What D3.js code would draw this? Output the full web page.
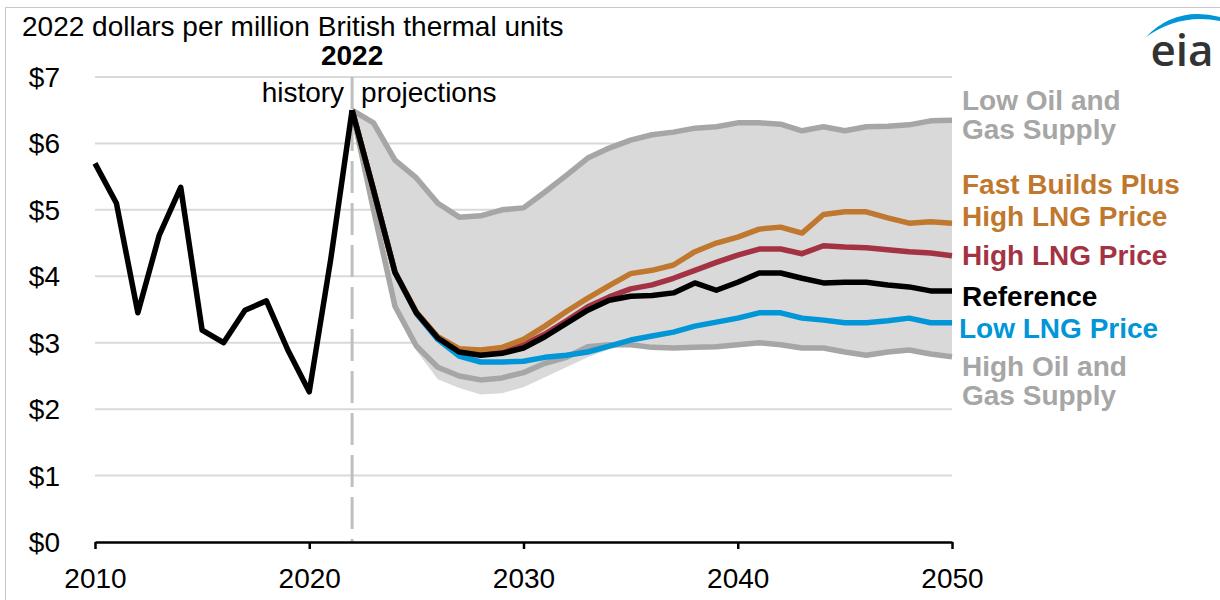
<!DOCTYPE html>
<html>
<head>
<meta charset="utf-8">
<script src="https://cdn.jsdelivr.net/npm/d3@7"></script>
<style>
  body { margin: 0; background: #fff; }
  svg { display: block; font-family: "Liberation Sans", Arial, sans-serif; }
</style>
</head>
<body>
<svg id="chart" width="1220" height="600"></svg>
<script>
// history, 2010-2022
let histYears = d3.range(2010, 2023);
let histValues = [5.70, 5.10, 3.45, 4.62, 5.34, 3.19, 3.00, 3.49, 3.63, 2.89, 2.26, 4.25, 6.50];

// projections, 2022-2050
let projYears = d3.range(2022, 2051);
let reference = [6.50, 5.30, 4.06, 3.45, 3.07, 2.86, 2.81, 2.84, 2.92, 3.09, 3.29, 3.49, 3.64, 3.70, 3.71, 3.75,
                 3.90, 3.79, 3.91, 4.05, 4.05, 3.97, 3.90, 3.91, 3.91, 3.87, 3.84, 3.78, 3.78];
let fastBuilds = [6.50, 5.30, 4.06, 3.46, 3.09, 2.91, 2.89, 2.93, 3.05, 3.25, 3.47, 3.67, 3.86, 4.04, 4.09, 4.17,
                  4.37, 4.50, 4.59, 4.71, 4.74, 4.65, 4.93, 4.97, 4.97, 4.88, 4.80, 4.82, 4.80];
let highLng = [6.50, 5.30, 4.06, 3.45, 3.08, 2.87, 2.83, 2.86, 2.97, 3.13, 3.33, 3.54, 3.69, 3.81, 3.87, 3.97,
               4.09, 4.21, 4.32, 4.41, 4.41, 4.34, 4.46, 4.44, 4.43, 4.40, 4.37, 4.35, 4.31];
let lowLng = [6.50, 5.30, 4.06, 3.44, 3.05, 2.80, 2.71, 2.71, 2.72, 2.78, 2.81, 2.86, 2.95, 3.04, 3.10, 3.16,
              3.25, 3.31, 3.37, 3.45, 3.45, 3.37, 3.34, 3.30, 3.30, 3.33, 3.37, 3.30, 3.30];
let lowSupply = [6.50, 6.31, 5.75, 5.48, 5.10, 4.89, 4.91, 5.00, 5.03, 5.27, 5.52, 5.78, 5.93, 6.05, 6.13, 6.17,
                 6.23, 6.25, 6.31, 6.31, 6.29, 6.19, 6.25, 6.19, 6.25, 6.26, 6.28, 6.34, 6.35];
let highSupply = [6.50, 5.00, 3.55, 2.95, 2.63, 2.50, 2.44, 2.47, 2.55, 2.69, 2.78, 2.94, 2.97, 2.97, 2.93, 2.92,
                  2.93, 2.94, 2.97, 3.00, 2.97, 2.92, 2.92, 2.86, 2.81, 2.86, 2.89, 2.83, 2.79];
// lower edge of the shaded range of all side cases
let rangeLow = [6.50, 5.00, 3.55, 2.88, 2.45, 2.32, 2.22, 2.24, 2.33, 2.48, 2.63, 2.78, 2.90, 2.97, 2.93, 2.92,
                2.93, 2.94, 2.97, 3.00, 2.97, 2.92, 2.92, 2.86, 2.81, 2.86, 2.89, 2.83, 2.79];

let yTicks = [0, 1, 2, 3, 4, 5, 6, 7];
let xTicks = [2010, 2020, 2030, 2040, 2050];

const svg = d3.select("#chart");

let x = d3.scaleLinear().domain([2010, 2050]).range([95, 952]);
let y = d3.scaleLinear().domain([0, 7]).range([542, 77]);

// frame
svg.append("rect")
    .attr("x", 5.5).attr("y", 7.5)
    .attr("width", 1240).attr("height", 620)
    .attr("fill", "none")
    .attr("stroke", "#c8c8c8")
    .attr("stroke-width", 1);

// gridlines
svg.append("g")
    .selectAll("line")
    .data(yTicks.filter(d => d > 0))
    .enter().append("line")
    .attr("x1", x(2010)).attr("x2", x(2050))
    .attr("y1", d => y(d)).attr("y2", d => y(d))
    .attr("stroke", "#d9d9d9")
    .attr("stroke-width", 2);

// y labels
svg.append("g")
    .selectAll("text")
    .data(yTicks)
    .enter().append("text")
    .attr("x", 60)
    .attr("y", d => y(d) + 10)
    .attr("text-anchor", "end")
    .style("font-size", "28px")
    .attr("fill", "#000")
    .text(d => "$" + d);

// shaded range
let rows = projYears.map((yr, i) => ({year: yr, lo: rangeLow[i], hi: lowSupply[i]}));
svg.append("path")
    .datum(rows)
    .attr("fill", "#d9d9d9")
    .attr("d", d3.area()
        .x(d => x(d.year))
        .y0(d => y(d.lo))
        .y1(d => y(d.hi)));

// 2022 divider
svg.append("line")
    .attr("x1", x(2022)).attr("x2", x(2022))
    .attr("y1", y(7)).attr("y2", y(0))
    .attr("stroke", "#bfbfbf")
    .attr("stroke-width", 3)
    .attr("stroke-dasharray", "32,10");

// x axis
let xAxis = svg.append("g")
    .attr("transform", `translate(0, ${y(0)})`)
    .call(d3.axisBottom(x).tickValues(xTicks).tickFormat(d3.format("d")).tickSize(7).tickSizeOuter(0));
xAxis.select(".domain").attr("stroke", "#000").attr("stroke-width", 2.5);
xAxis.selectAll(".tick line").attr("stroke", "#000").attr("stroke-width", 2.5);
xAxis.selectAll(".tick text")
    .attr("dy", null)
    .attr("y", 46)
    .style("font-size", "28px")
    .style("font-family", "'Liberation Sans', Arial, sans-serif")
    .attr("fill", "#000");

let line = d3.line().x(d => x(d[0])).y(d => y(d[1]));

let series = [
    {values: lowSupply, color: "#a6a6a6"},
    {values: highSupply, color: "#a6a6a6"},
    {values: lowLng, color: "#0096d7"},
    {values: highLng, color: "#a33343"},
    {values: fastBuilds, color: "#c0782e"},
    {values: reference, color: "#000000"}
];

svg.append("g")
    .selectAll("path")
    .data(series)
    .enter().append("path")
    .attr("fill", "none")
    .attr("stroke", d => d.color)
    .attr("stroke-width", 5.5)
    .attr("stroke-linejoin", "round")
    .attr("d", d => line(projYears.map((yr, i) => [yr, d.values[i]])));

svg.append("path")
    .attr("fill", "none")
    .attr("stroke", "#000")
    .attr("stroke-width", 5.5)
    .attr("stroke-linejoin", "round")
    .attr("d", line(histYears.map((yr, i) => [yr, histValues[i]])));

// titles
svg.append("text")
    .attr("x", 22).attr("y", 36)
    .style("font-size", "28px")
    .text("2022 dollars per million British thermal units");

svg.append("text")
    .attr("x", x(2022)).attr("y", 65)
    .attr("text-anchor", "middle")
    .style("font-size", "28px")
    .style("font-weight", "bold")
    .text("2022");

svg.append("text")
    .attr("x", x(2022) - 8).attr("y", 102)
    .attr("text-anchor", "end")
    .style("font-size", "28px")
    .text("history");

svg.append("text")
    .attr("x", x(2022) + 9).attr("y", 102)
    .style("font-size", "28px")
    .text("projections");

// series labels
let labelLines = [
    {text: "Low Oil and", y: 110, color: "#a6a6a6"},
    {text: "Gas Supply", y: 139, color: "#a6a6a6"},
    {text: "Fast Builds Plus", y: 194, color: "#c0782e"},
    {text: "High LNG Price", y: 226, color: "#c0782e"},
    {text: "High LNG Price", y: 265, color: "#a33343"},
    {text: "Reference", y: 306, color: "#000000"},
    {text: "Low LNG Price", y: 338, color: "#0096d7"},
    {text: "High Oil and", y: 376, color: "#a6a6a6"},
    {text: "Gas Supply", y: 405, color: "#a6a6a6"}
];

svg.append("g")
    .selectAll("text")
    .data(labelLines)
    .enter().append("text")
    .attr("x", d => d.text === "Low LNG Price" ? 959 : 962)
    .attr("y", d => d.y)
    .attr("fill", d => d.color)
    .style("font-size", "28px")
    .style("font-weight", "bold")
    .text(d => d.text);

// eia logo
let logo = svg.append("g");
logo.append("path")
    .attr("d", "M1146,37 Q1176,6 1220,17 L1220,21 Q1180,13 1146,37 Z")
    .attr("fill", "#0096d7");
logo.append("text")
    .attr("x", 1182).attr("y", 66)
    .attr("text-anchor", "middle")
    .attr("fill", "#333333")
    .style("font-size", "44px")
    .style("font-weight", "600")
    .style("font-family", "'Open Sans', 'Liberation Sans', sans-serif")
    .text("eia");
</script>
</body>
</html>
